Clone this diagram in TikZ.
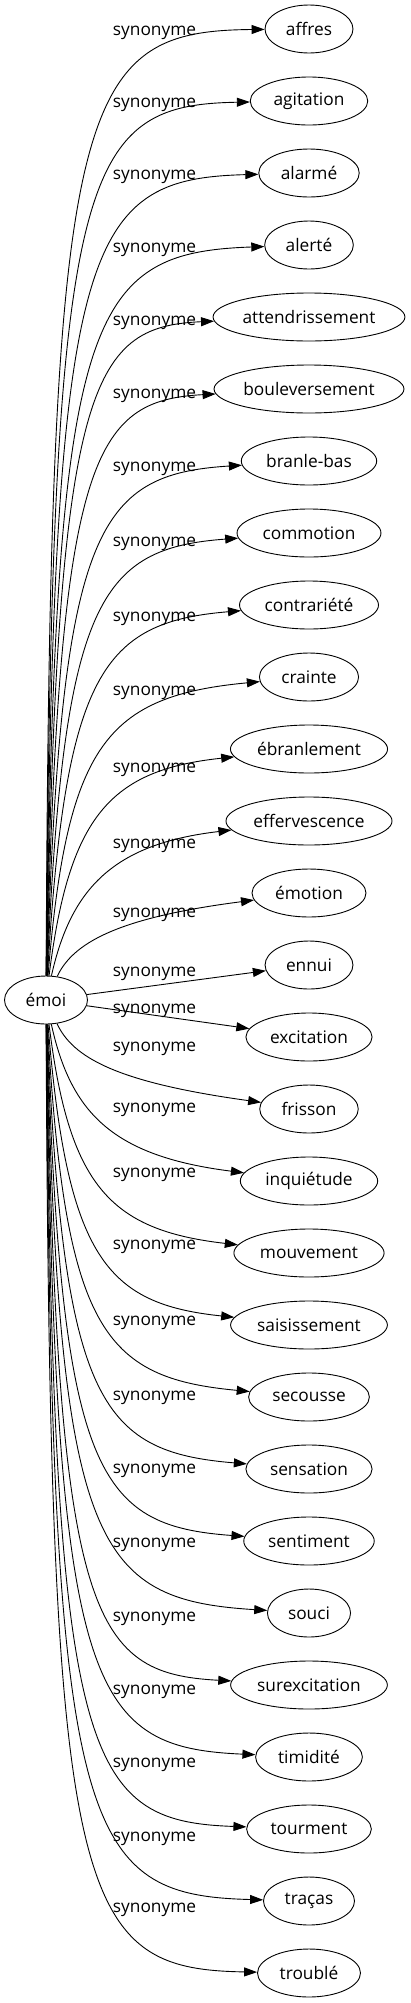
\documentclass[tikz,border=0pt]{standalone}
\usepackage{fontspec}
\setmainfont{Open Sans}
\usetikzlibrary{arrows.meta,shapes.geometric}
\begin{document}
\begin{tikzpicture}[x=1pt,y=-1pt,
  mot/.style={draw, ellipse, inner sep=0pt, minimum height=48pt, line width=0.9pt},
  rel/.style={inner sep=0pt},
  syn/.style={line width=0.9pt, -{Triangle[length=13pt,width=9pt]}}]
\fontsize{17.3}{21}\selectfont
\useasboundingbox (0,0) rectangle (411,2003);

\node[mot, minimum width=83pt] (emoi) at (46,1000) {émoi};

\foreach \i/\w/\ly in {0/affres/31, 1/agitation/103, 2/alarmé/175, 3/alerté/248,
    4/attendrissement/321, 5/bouleversement/394, 6/branle-bas/467, 7/commotion/542,
    8/contrariété/617, 9/crainte/691, 10/ébranlement/768, 11/effervescence/844,
    12/émotion/913, 13/ennui/972, 14/excitation/1009, 15/frisson/1047,
    16/inquiétude/1108, 17/mouvement/1173, 18/saisissement/1245, 19/secousse/1321,
    20/sensation/1396, 21/sentiment/1469, 22/souci/1543, 23/surexcitation/1617,
    24/timidité/1690, 25/tourment/1763, 26/traças/1837, 27/troublé/1908}{
  \pgfmathsetmacro\ty{29+72*\i}
  \pgfmathsetmacro\ew{1.195*(width("\w")+27.6)}
  \node[mot, minimum width=\ew pt] (m\i) at (309,\ty) {\w};
  \node[rel] (s\i) at (154.5,\ly+1.5) {synonyme};
  \ifnum\i<13
    % above the source
    \pgfmathsetmacro\d{977-\ty}
    \pgfmathsetmacro\f{1-\d/950}
    \draw[syn] (emoi) .. controls ({50+25*\f},{\ty+min(68,0.6*\d)}) and ({75+45*\f},{\ty+2+25*\f}) .. (m\i);
  \else\ifnum\i<15
    \draw[syn] (emoi) -- (m\i);
  \else
    % below the source
    \pgfmathsetmacro\d{\ty-1023}
    \pgfmathsetmacro\f{1-\d/950}
    \draw[syn] (emoi) .. controls ({50+25*\f},{\ty-min(68,0.6*\d)}) and ({75+45*\f},{\ty-4-25*\f}) .. (m\i);
  \fi\fi
}
\end{tikzpicture}
\end{document}
